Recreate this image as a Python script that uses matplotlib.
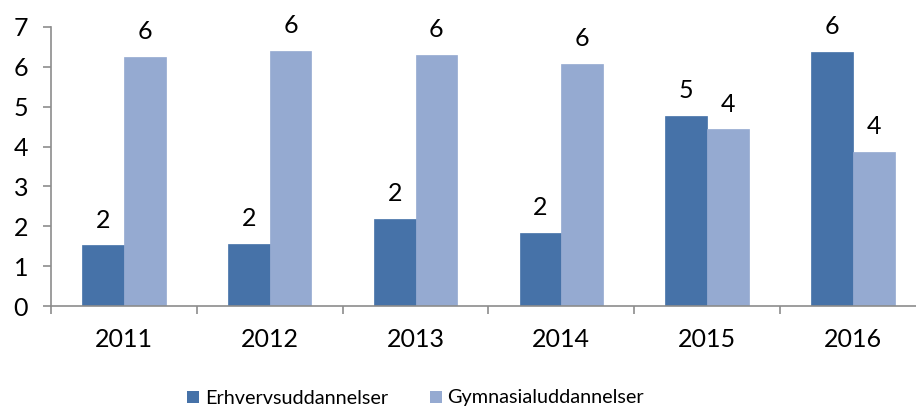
import matplotlib
matplotlib.use("Agg")
import matplotlib.pyplot as plt
from matplotlib.lines import Line2D
import numpy as np

years = ["2011", "2012", "2013", "2014", "2015", "2016"]
erhverv = [1.52, 1.55, 2.18, 1.84, 4.77, 6.37]
gymnasial = [6.24, 6.39, 6.29, 6.07, 4.43, 3.87]
series_names = ["Erhvervsuddannelser", "Gymnasialuddannelser"]
yticks = [0, 1, 2, 3, 4, 5, 6, 7]

c_dark = "#4672A8"
c_light = "#95AAD1"
axis_col = "#8C8C8C"
FONT = "Lato"
FS = 18
FS_LEG = 14.3

plt.rcParams['font.family'] = [FONT, 'DejaVu Sans']

fig = plt.figure(figsize=(9.16, 4.09), dpi=100)
W, H = 916, 409
cat_w = 145.8
ax = fig.add_axes([51 / W, 103 / H, 6 * cat_w / W, (306 - 27) / H])

x = np.arange(len(years)) + 0.5
bw = 0.571 / 2
b1 = ax.bar(x - bw / 2, erhverv, width=bw, color=c_dark, edgecolor=c_dark, linewidth=0.5)
b2 = ax.bar(x + bw / 2, gymnasial, width=bw, color=c_light, edgecolor=c_light, linewidth=0.5)

for bars, vals in ((b1, erhverv), (b2, gymnasial)):
    for rect, v in zip(bars, vals):
        ax.annotate(f"{v:.0f}", (rect.get_x() + rect.get_width() / 2, v),
                    xytext=(0, 10), textcoords="offset points",
                    ha="center", va="bottom", fontsize=FS, color="black")

ax.set_xlim(0, len(years))
ax.set_ylim(0, 7)
ax.set_yticks(yticks)
ax.set_yticklabels([str(t) for t in yticks])

ax.set_xticks(np.arange(len(years) + 1))
ax.set_xticklabels([])
ax.set_xticks(x, minor=True)
ax.set_xticklabels(years, minor=True)

ax.tick_params(axis="x", which="major", direction="out", length=5.5, width=1.2, color=axis_col)
ax.tick_params(axis="x", which="minor", length=0, pad=16, labelsize=FS)
ax.tick_params(axis="y", direction="out", length=5.5, width=1.2, color=axis_col, pad=11, labelsize=FS)

for s in ("top", "right"):
    ax.spines[s].set_visible(False)
for s in ("left", "bottom"):
    ax.spines[s].set_color(axis_col)
    ax.spines[s].set_linewidth(1.2)

handles = [Line2D([], [], marker="s", linestyle="none", markersize=9, color=c, markeredgewidth=0)
           for c in (c_dark, c_light)]
fig.legend(handles, series_names, loc="center", bbox_to_anchor=(415.5 / W, 1 - 398 / H),
           ncol=2, frameon=False, fontsize=FS_LEG, handlelength=0.6, handletextpad=0.3,
           columnspacing=2.1)

fig.savefig("out.png", dpi=100)
